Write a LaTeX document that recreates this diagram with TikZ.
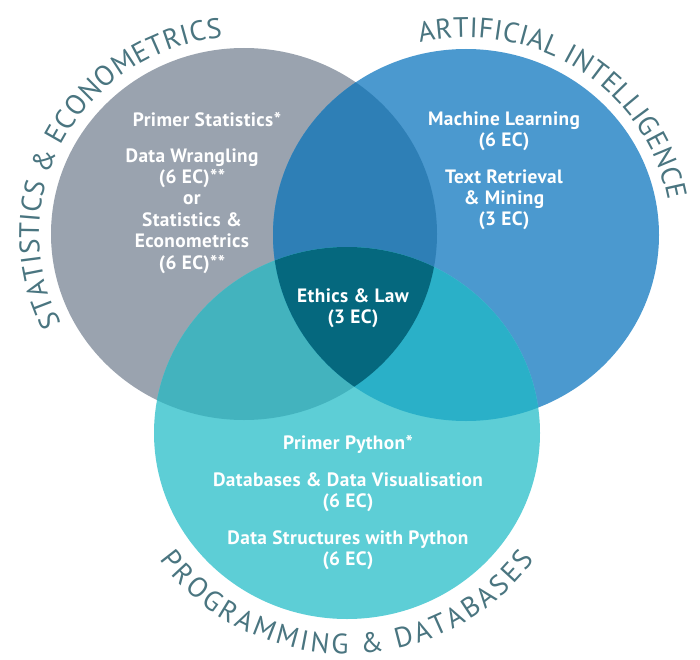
\documentclass[tikz,border=0pt]{standalone}
\usepackage{fontspec}
\setmainfont{PT Sans}
\newfontfamily\coursefamily[LetterSpace=2.0]{PT Sans Bold}
\usetikzlibrary{decorations.text}

\definecolor{statgrey}{HTML}{9AA3AF}
\definecolor{aiblue}{HTML}{4B99CF}
\definecolor{progteal}{HTML}{5DCED6}
\definecolor{statai}{HTML}{2E7FB6}
\definecolor{statprog}{HTML}{43B3BE}
\definecolor{aiprog}{HTML}{2AB0C8}
\definecolor{allthree}{HTML}{05687E}
\definecolor{labelteal}{HTML}{4A7580}

\newcommand{\areafont}{\fontsize{16}{19}\selectfont}

\begin{document}
\begin{tikzpicture}[
		course/.style={text=white, font=\coursefamily\fontsize{11}{12.2}\selectfont, align=center, inner sep=0pt, anchor=north},
		area/.style={decorate, decoration={text along path, text align={fit to path}, text color=labelteal}},
		disc/.style={x radius=3.86, y radius=3.72}
	]
	\useasboundingbox (0,0) rectangle (14,13.18);
	
	\coordinate (stat) at (4.88,8.50);
	\coordinate (ai) at (9.32,8.48);
	\coordinate (prog) at (6.94,4.52);
	
	\fill[statgrey] (stat) ellipse [disc];
	\fill[aiblue] (ai) ellipse [disc];
	\fill[progteal] (prog) ellipse [disc];
	
	\begin{scope}
		\clip (stat) ellipse [disc];
		\fill[statai] (ai) ellipse [disc];
		\fill[statprog] (prog) ellipse [disc];
	\end{scope}
	\begin{scope}
		\clip (ai) ellipse [disc];
		\fill[aiprog] (prog) ellipse [disc];
		\clip (stat) ellipse [disc];
		\fill[allthree] (prog) ellipse [disc];
	\end{scope}
	
	\path[area, decoration={text={|\areafont|STATISTICS {\&} ECONOMETRICS}}]
		(stat) ++(207:4.1 and 3.95) arc[start angle=207, end angle=96, x radius=4.1, y radius=3.95];
	\path[area, decoration={text={|\areafont|ARTIFICIAL INTELLIGENCE}}]
		(ai) ++(103:4.1 and 3.95) arc[start angle=103, end angle=10, x radius=4.1, y radius=3.95];
	\path[area, decoration={text={|\areafont|PROGRAMMING {\&} DATABASES}}]
		(prog) ++(215:4.58 and 4.42) arc[start angle=215, end angle=325, x radius=4.58, y radius=4.42];
	
	\node[course] (statprimer) at (4.14,10.94) {Primer Statistics*};
	\node[course] (statcourses) at (3.84,10.22) {Data Wrangling\\(6 EC)**\\or\\Statistics \&\\Econometrics\\(6 EC)**};
	\node[course] (aicourses) at (10.08,10.96) {Machine Learning\\(6 EC)\\[8.6pt]
		Text Retrieval\\\& Mining\\(3 EC)};
	\node[course] (ethics) at (7.06,7.42) {Ethics \& Law\\(3 EC)};
	\node[course] (progcourses) at (6.96,4.48) {Primer Python*\\[8.6pt]
		Databases \& Data Visualisation\\(6 EC)\\[8.6pt]
		Data Structures with Python\\(6 EC)};
\end{tikzpicture}
\end{document}
